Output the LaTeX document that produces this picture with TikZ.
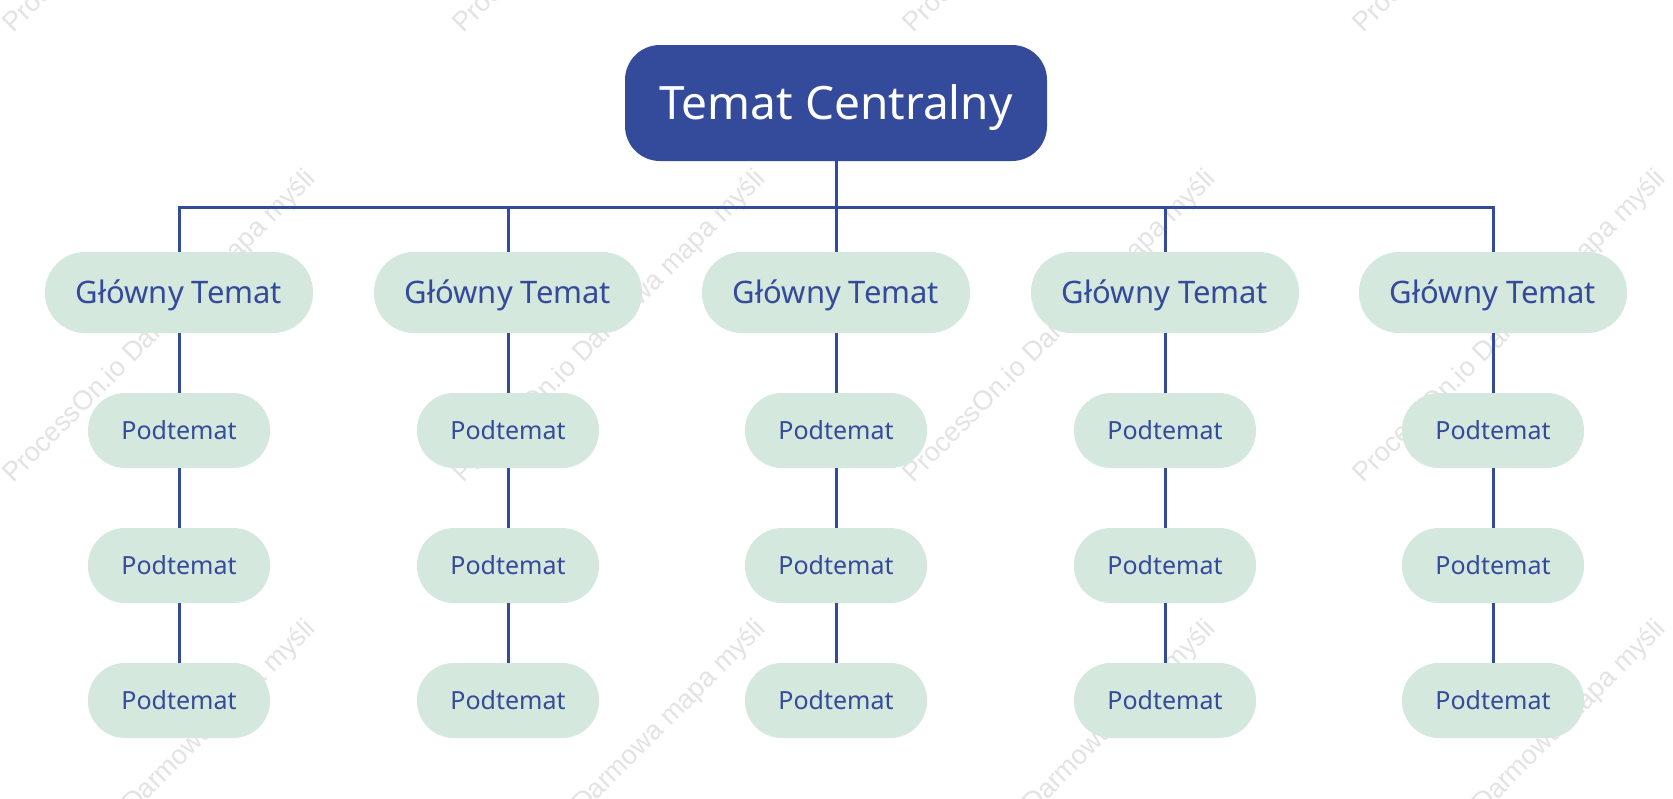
\documentclass[tikz,border=0pt]{standalone}
\usepackage{fontspec}
\setmainfont{Noto Sans}
\newfontfamily\wmfont{Liberation Sans}
\definecolor{mblue}{HTML}{344A9B}
\definecolor{mgreen}{HTML}{D5E8DE}
\tikzset{
  central/.style={rectangle, rounded corners=35pt, fill=mblue, text=white,
    minimum width=422pt, minimum height=116pt, inner sep=0pt,
    text height=33pt, text depth=0pt, font=\fontsize{46}{50}\selectfont},
  maintopic/.style={rectangle, rounded corners=40pt, fill=mgreen, text=mblue,
    minimum width=268pt, minimum height=81pt, inner sep=0pt,
    text height=22.5pt, text depth=0pt, font=\fontsize{31}{35}\selectfont},
  subtopic/.style={rectangle, rounded corners=37pt, fill=mgreen, text=mblue,
    minimum width=182pt, minimum height=75pt, inner sep=0pt,
    text height=18pt, text depth=0pt, font=\fontsize{25}{28}\selectfont},
  link/.style={draw=mblue, line width=3pt},
  wm/.style={rotate=45, text=black!11, inner sep=0pt,
    font=\wmfont\fontsize{27}{30}\selectfont}
}
\begin{document}
\begin{tikzpicture}[x=1pt,y=-1pt]
\useasboundingbox[fill=white] (0,0) rectangle (1673,798);
% watermark
\foreach \r/\wy in {0/-123,1/327,2/777}{
  \foreach \k/\wx in {0/160,1/610,2/1060,3/1510}{
    \node[wm] (wm\r\k) at (\wx,\wy) {ProcessOn.io Darmowa mapa myśli};
  }
}
% nodes
\node[central] (c) at (836,103) {Temat Centralny};
\coordinate (bus) at (836,207);
\foreach \i/\x in {1/179,2/508,3/836,4/1165,5/1493}{
  \node[maintopic] (m\i) at (\x,292.5) {Główny Temat};
  \node[subtopic] (s\i a) at (\x,430.5) {Podtemat};
  \node[subtopic] (s\i b) at (\x,565.5) {Podtemat};
  \node[subtopic] (s\i c) at (\x,700.5) {Podtemat};
  \draw[link] (c.south) -- (c.south |- bus) -| (m\i.north);
  \draw[link] (m\i.south) -- (s\i a.north);
  \draw[link] (s\i a.south) -- (s\i b.north);
  \draw[link] (s\i b.south) -- (s\i c.north);
}
\end{tikzpicture}
\end{document}
